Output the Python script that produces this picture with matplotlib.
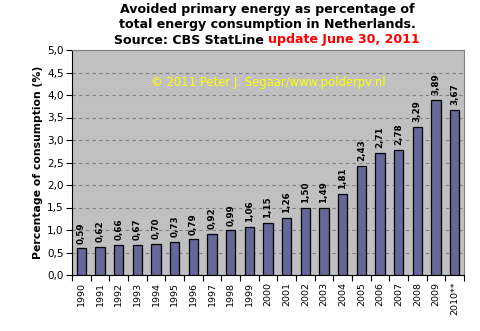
import matplotlib
matplotlib.use("Agg")
import matplotlib.pyplot as plt
import numpy as np

years = ["1990", "1991", "1992", "1993", "1994", "1995", "1996", "1997", "1998", "1999",
         "2000", "2001", "2002", "2003", "2004", "2005", "2006", "2007", "2008", "2009", "2010**"]
values = [0.59, 0.62, 0.66, 0.67, 0.70, 0.73, 0.79, 0.92, 0.99, 1.06,
          1.15, 1.26, 1.50, 1.49, 1.81, 2.43, 2.71, 2.78, 3.29, 3.89, 3.67]
yticks = [0.0, 0.5, 1.0, 1.5, 2.0, 2.5, 3.0, 3.5, 4.0, 4.5, 5.0]

W, H = 481, 331
fig = plt.figure(figsize=(W / 100, H / 100), dpi=100)
fig.patch.set_facecolor("white")
ax = fig.add_axes([72 / W, 1 - 275 / H, (464 - 72) / W, (275 - 50) / H])
ax.set_facecolor("#C0C0C0")

x = np.arange(len(years))
bars = ax.bar(x, values, width=0.5, color="#666699", edgecolor="black", linewidth=0.9, zorder=3)
for xi, v in zip(x, values):
    ax.annotate(f"{v:.2f}".replace(".", ","), xy=(xi, v), xytext=(0, 3.5),
                textcoords="offset points", rotation=90, ha="center", va="bottom",
                fontsize=6.3, fontweight="bold", family="DejaVu Sans", zorder=4)

ax.set_xlim(-0.5, len(years) - 0.5)
ax.set_ylim(0, 5)
ax.set_yticks(yticks)
ax.set_yticklabels([f"{t:.1f}".replace(".", ",") for t in yticks], fontsize=7.5)
ax.yaxis.grid(True, color="#808080", linestyle=(0, (3, 3)), linewidth=0.8, zorder=1)
ax.set_xticks(np.arange(len(years) + 1) - 0.5, minor=False)
ax.set_xticklabels([])
ax.set_xticks(x, minor=True)
ax.set_xticklabels(years, minor=True, rotation=90, fontsize=6.8, va="top")
ax.tick_params(axis="x", which="major", direction="out", length=4, width=0.8)
ax.tick_params(axis="x", which="minor", length=0, pad=5)
ax.tick_params(axis="y", direction="out", length=4, width=0.8, pad=2)
for s in ["top", "right"]:
    ax.spines[s].set_color("#808080")
    ax.spines[s].set_linewidth(0.8)
for s in ["left", "bottom"]:
    ax.spines[s].set_color("black")
    ax.spines[s].set_linewidth(0.8)

ax.set_ylabel("Percentage of consumption (%)", fontsize=7.8, fontweight="bold", labelpad=3)

ax.text(0.5, 0.855, "\u00a9 2011 Peter J. Segaar/www.polderpv.nl", transform=ax.transAxes,
        color="#FFFF00", fontsize=8.4, ha="center", va="center", zorder=5)

tfs = 9.1
fig.text(267 / W, 1 - 9 / H, "Avoided primary energy as percentage of", ha="center", va="center",
         fontsize=tfs, fontweight="bold")
fig.text(267 / W, 1 - 24.5 / H, "total energy consumption in Netherlands.", ha="center", va="center",
         fontsize=tfs, fontweight="bold")
t1 = fig.text(0, 1 - 40 / H, "Source: CBS StatLine ", ha="left", va="center",
              fontsize=tfs, fontweight="bold")
t2 = fig.text(0, 1 - 40 / H, "update June 30, 2011", ha="left", va="center",
              fontsize=tfs, fontweight="bold", color="#FF0000")
fig.canvas.draw()
r = fig.canvas.get_renderer()
w1 = t1.get_window_extent(r).width
w2 = t2.get_window_extent(r).width
start = 267 - (w1 + w2) / 2
t1.set_x(start / W)
t2.set_x((start + w1) / W)

fig.savefig("out.png", dpi=100)
